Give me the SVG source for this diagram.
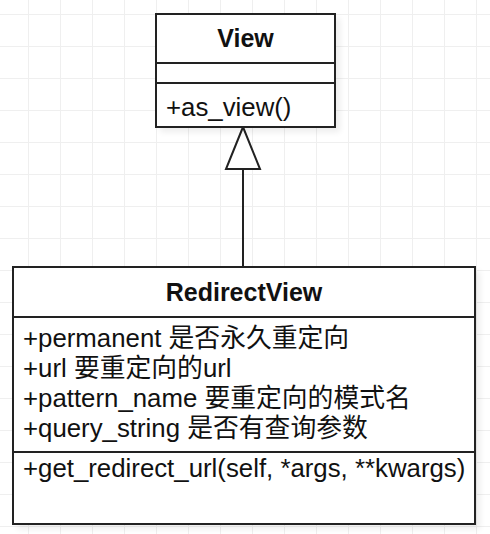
<svg xmlns="http://www.w3.org/2000/svg" width="490" height="534" viewBox="0 0 490 534">
<defs>
<pattern id="grid" x="28" y="14" width="32" height="32" patternUnits="userSpaceOnUse">
<path d="M0 0H32M0 0V32" fill="none" stroke="#efefef" stroke-width="2"/>
</pattern>
<filter id="sh" x="-10%" y="-10%" width="130%" height="130%">
<feGaussianBlur stdDeviation="3"/>
</filter>
</defs>
<style>
.box{fill:#fff;stroke:#222;stroke-width:2}
.ln{stroke:#222;stroke-width:2;fill:none}
.shadow{fill:#000;opacity:0.07;filter:url(#sh)}
.t{font-family:"Liberation Sans","Noto Sans CJK SC",Arial,sans-serif;font-size:25.8px;fill:#111}
.b{font-weight:bold;text-anchor:middle;font-size:25px}
</style>
<rect width="490" height="534" fill="#fff"/>
<rect width="490" height="534" fill="url(#grid)"/>
<g id="connectors">
<line class="ln" x1="243" y1="169" x2="243" y2="267"/>
<polygon points="243,127 226,169 260,169" fill="#fff" stroke="#222" stroke-width="2"/>
</g>
<g id="View">
<rect class="shadow" x="160" y="18" width="180" height="114"/>
<rect class="box" x="156" y="14" width="179" height="113"/>
<line class="ln" x1="156" y1="63" x2="335" y2="63"/>
<line class="ln" x1="156" y1="83" x2="335" y2="83"/>
<text class="t b" x="245.5" y="47">View</text>
<text class="t" x="166" y="116">+as_view()</text>
</g>
<g id="RedirectView">
<rect class="shadow" x="17" y="271" width="463" height="258"/>
<rect class="box" x="13" y="267" width="462" height="257"/>
<line class="ln" x1="13" y1="317" x2="475" y2="317"/>
<line class="ln" x1="13" y1="452" x2="475" y2="452"/>
<text class="t b" x="244" y="301">RedirectView</text>
<text class="t" x="23" y="347">+permanent 是否永久重定向</text>
<text class="t" x="23" y="377">+url 要重定向的url</text>
<text class="t" x="23" y="407">+pattern_name 要重定向的模式名</text>
<text class="t" x="23" y="437">+query_string 是否有查询参数</text>
<text class="t" x="23" y="477">+get_redirect_url(self, *args, **kwargs)</text>
</g>
</svg>
